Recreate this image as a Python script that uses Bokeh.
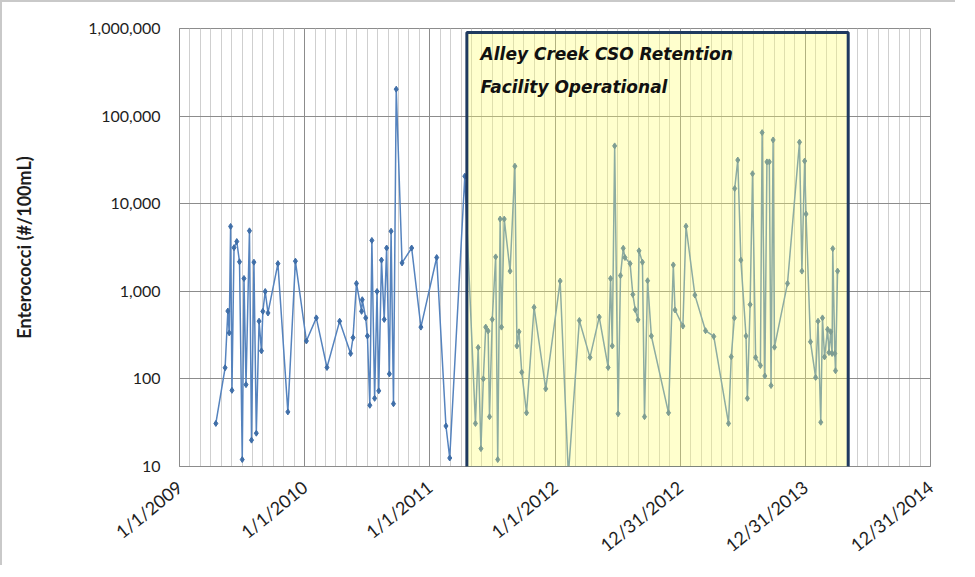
import math
import pandas as pd
from bokeh.plotting import figure
from bokeh.models import (ColumnDataSource, FixedTicker, BoxAnnotation, Label, Range1d)
from bokeh.embed import file_html
from bokeh.resources import INLINE

# ---------------- data ----------------
sample_dates = [
    "2009-04-17", "2009-05-14", "2009-05-22", "2009-05-26", "2009-05-30", "2009-06-03",
    "2009-06-09", "2009-06-17", "2009-06-25", "2009-07-03", "2009-07-08", "2009-07-14",
    "2009-07-24", "2009-07-30", "2009-08-06", "2009-08-13", "2009-08-21", "2009-08-28",
    "2009-09-01", "2009-09-08", "2009-09-16", "2009-10-15", "2009-11-13", "2009-12-05",
    "2010-01-06", "2010-02-04", "2010-03-07", "2010-04-13", "2010-05-15", "2010-05-22",
    "2010-06-01", "2010-06-16", "2010-06-18", "2010-06-28", "2010-07-03", "2010-07-10",
    "2010-07-16", "2010-07-24", "2010-07-31", "2010-08-05", "2010-08-13", "2010-08-21",
    "2010-08-28", "2010-09-05", "2010-09-10", "2010-09-17", "2010-09-25", "2010-10-12",
    "2010-11-09", "2010-12-06", "2011-01-21", "2011-02-17", "2011-02-28", "2011-04-13",
    "2011-05-14", "2011-05-22", "2011-05-30", "2011-06-06", "2011-06-13", "2011-06-20",
    "2011-06-24", "2011-07-02", "2011-07-12", "2011-07-18", "2011-07-25", "2011-07-29",
    "2011-08-06", "2011-08-23", "2011-09-06", "2011-09-12", "2011-09-18", "2011-09-26",
    "2011-10-10", "2011-11-01", "2011-12-05", "2012-01-16", "2012-02-09", "2012-03-12",
    "2012-04-12", "2012-05-09", "2012-06-04", "2012-06-11", "2012-06-16", "2012-06-23",
    "2012-07-03", "2012-07-10", "2012-07-18", "2012-07-23", "2012-08-07", "2012-08-15",
    "2012-08-22", "2012-08-30", "2012-09-02", "2012-09-12", "2012-09-18", "2012-09-27",
    "2012-10-08", "2012-11-27", "2012-12-11", "2012-12-16", "2013-01-08", "2013-01-17",
    "2013-02-12", "2013-03-15", "2013-04-08", "2013-05-21", "2013-05-29", "2013-06-07",
    "2013-06-08", "2013-06-17", "2013-06-26", "2013-07-11", "2013-07-15", "2013-07-23",
    "2013-07-30", "2013-08-08", "2013-08-22", "2013-08-27", "2013-09-04", "2013-09-10",
    "2013-09-17", "2013-09-22", "2013-09-28", "2013-10-02", "2013-11-09", "2013-12-14",
    "2013-12-21", "2013-12-29", "2014-01-02", "2014-01-15", "2014-01-30", "2014-02-06",
    "2014-02-14", "2014-02-19", "2014-02-25", "2014-03-06", "2014-03-10", "2014-03-15",
    "2014-03-19", "2014-03-21", "2014-03-27", "2014-03-29", "2014-04-04",
]
enterococci = [
    31, 134, 595, 335, 5500, 74,
    3150, 3700, 2170, 12, 1400, 86,
    4900, 20, 2150, 24, 456, 209,
    590, 995, 566, 2070, 42, 2210,
    271, 497, 135, 456, 195, 296,
    1230, 590, 802, 497, 309, 50,
    3810, 60, 995, 73, 2270, 477,
    3120, 114, 4850, 52, 203000, 2110,
    3120, 390, 2430, 29, 12.5, 20600,
    31, 228, 16, 100, 390, 352,
    37, 477, 2470, 12, 6680, 390,
    6680, 1700, 26800, 238, 345, 119,
    41, 656, 77, 1310, 8, 464,
    176, 508, 135, 1400, 238, 45700,
    40, 1510, 3100, 2430, 2070, 920,
    617, 472, 2900, 2150, 37, 1320,
    309, 41, 2000, 612, 401, 5530,
    905, 355, 305, 31, 179, 497,
    14900, 31500, 2270, 309, 60, 705,
    22000, 176, 142, 64800, 108, 30000,
    30000, 84, 53400, 230, 1230, 50400,
    1700, 30700, 7620, 265, 104, 455,
    32, 497, 178, 367, 200, 345,
    195, 3070, 195, 124, 1700,
]

x_tick_dates = ["2009-01-01", "2010-01-01", "2011-01-01", "2012-01-01",
                "2012-12-31", "2013-12-31", "2014-12-31"]
x_tick_labels = ["1/1/2009", "1/1/2010", "1/1/2011", "1/1/2012",
                 "12/31/2012", "12/31/2013", "12/31/2014"]
y_ticks = [10, 100, 1000, 10000, 100000, 1000000]
y_tick_labels = ["10", "100", "1,000", "10,000", "100,000", "1,000,000"]

operational_start = "2011-04-19"
operational_end = "2014-05-05"
operational_text = ["Alley Creek CSO Retention", "Facility Operational"]
y_title = "Enterococci (#/100mL)"

# ---------------- helpers ----------------
def ms(d):
    return float(pd.Timestamp(d).value // 10**6)

DAY = 86400000.0
FONT = "Lato"

src = ColumnDataSource(dict(date=pd.to_datetime(sample_dates), value=enterococci))

x0 = ms(x_tick_dates[0])
x1 = ms(x_tick_dates[-1])

p = figure(width=955, height=565, x_axis_type="datetime", y_axis_type="log",
           x_range=Range1d(x0, x1), y_range=Range1d(10, 1000000),
           output_backend="svg", toolbar_location=None,
           min_border_left=177, min_border_top=26, min_border_right=27,
           min_border_bottom=96)
p.styles = {"border-top": "2px solid #c9c9c9", "border-left": "2px solid #c9c9c9"}
p.background_fill_color = "white"
p.border_fill_color = "white"
p.outline_line_color = "#8c8c8c"

# axes / ticks
major_x = [ms(d) for d in x_tick_dates]
minor_x = [x0 + i * 365.0 / 12.0 * DAY for i in range(0, 73)]
p.xaxis.ticker = FixedTicker(ticks=major_x, minor_ticks=minor_x)
p.xaxis.major_label_overrides = {t: lab for t, lab in zip(major_x, x_tick_labels)}
p.xaxis.major_label_orientation = 0.68
p.xaxis.major_label_text_font = FONT
p.xaxis.major_label_text_font_size = "18px"
p.xaxis.major_label_text_color = "#1e1e1e"
p.xaxis.major_label_standoff = 18
p.xaxis.major_tick_out = 0
p.xaxis.major_tick_in = 0
p.xaxis.minor_tick_out = 0
p.xaxis.minor_tick_in = 0
p.xaxis.axis_line_color = "#8c8c8c"

p.yaxis.ticker = FixedTicker(ticks=y_ticks, minor_ticks=[])
p.yaxis.major_label_overrides = {t: lab for t, lab in zip(y_ticks, y_tick_labels)}
p.yaxis.major_label_text_font = FONT
p.yaxis.major_label_text_font_size = "16px"
p.yaxis.major_label_text_color = "#1e1e1e"
p.yaxis.major_label_standoff = 19
p.yaxis.major_tick_out = 0
p.yaxis.major_tick_in = 0
p.yaxis.minor_tick_out = 0
p.yaxis.minor_tick_in = 0
p.yaxis.axis_line_color = "#8c8c8c"
p.yaxis.axis_label = y_title
p.yaxis.axis_label_text_font = FONT
p.yaxis.axis_label_text_font_size = "18px"
p.yaxis.axis_label_text_font_style = "bold"
p.yaxis.axis_label_text_color = "#1e1e1e"
p.yaxis.axis_label_standoff = 50

# grid
p.xgrid.grid_line_color = "#8c8c8c"
p.xgrid.minor_grid_line_color = "#cfcfcf"
p.ygrid.grid_line_color = "#8c8c8c"

# series
p.line("date", "value", source=src, line_color="#5583be", line_width=1.5)
p.scatter("date", "value", source=src, marker="diamond", size=6,
          fill_color="#3f6ea8", line_color="#3f6ea8")

# operational period box
box = BoxAnnotation(left=ms(operational_start), right=ms(operational_end),
                    top=900000, bottom=9.6,
                    fill_color="#ffff66", fill_alpha=0.33,
                    line_color="#1f3a60", line_alpha=1.0, line_width=3)
p.add_layout(box)

for txt, yv in zip(operational_text, [510000, 215000]):
    p.add_layout(Label(x=ms(operational_start) + 40 * DAY, y=yv, text=txt,
                       text_font="DejaVu Sans", text_font_size="17px",
                       text_font_style="bold italic", text_color="#111111",
                       text_baseline="middle", text_align="left"))

open("out.html", "w").write(file_html(p, INLINE))
